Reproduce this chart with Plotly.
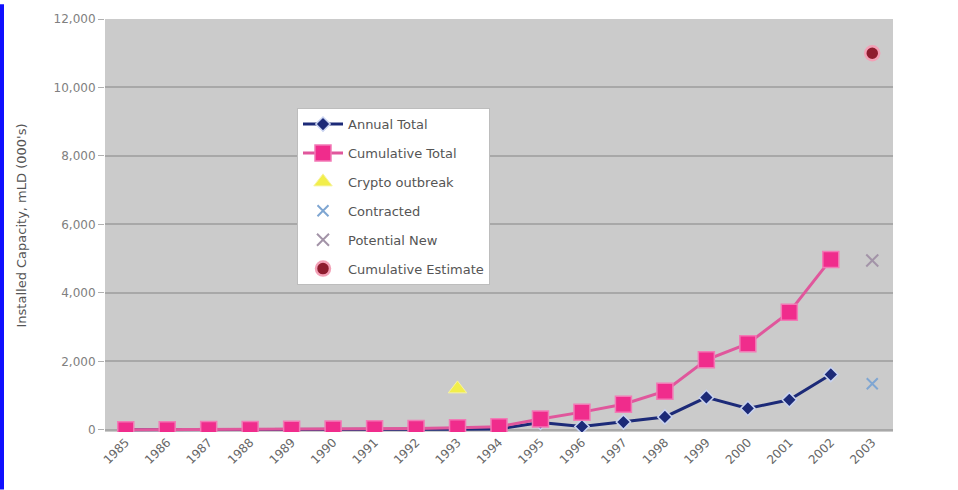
import plotly.graph_objects as go

years = [str(y) for y in range(1985, 2004)]

# Installed capacity by year (000's)
annual_total = [3, 3, 4, 4, 5, 6, 8, 12, 20, 30, 220, 100, 230, 380, 950, 630, 880, 1620]
cumulative_total = [3, 6, 10, 14, 19, 25, 33, 45, 65, 95, 320, 520, 750, 1130, 2050, 2520, 3440, 4980]

crypto_year = ["1993"]
crypto_value = [1200]

contracted_year = ["2003"]
contracted_value = [1350]

potential_year = ["2003"]
potential_value = [4950]

estimate_year = ["2003"]
estimate_value = [11000]

y_ticks = [0, 2000, 4000, 6000, 8000, 10000, 12000]
y_tick_text = ["0", "2,000", "4,000", "6,000", "8,000", "10,000", "12,000"]

FONT = "DejaVu Sans, Verdana, sans-serif"

fig = go.Figure()

fig.add_trace(go.Scatter(
    x=years[:len(annual_total)], y=annual_total, name="Annual Total",
    mode="lines+markers", legendgroup="a",
    line=dict(color="#1c2a78", width=3),
    marker=dict(symbol="diamond", size=11, color="#1c2a78",
                line=dict(color="#c9d3f0", width=1.5)),
))
fig.add_trace(go.Scatter(
    x=years[:len(cumulative_total)], y=cumulative_total, name="Cumulative Total",
    mode="lines+markers", legendgroup="b",
    line=dict(color="#e0579c", width=3),
    marker=dict(symbol="square", size=16, color="#f02c8c",
                line=dict(color="#f27ab6", width=1.5)),
))
fig.add_trace(go.Scatter(
    x=crypto_year, y=crypto_value, name="Crypto outbreak",
    mode="markers", legendgroup="c",
    marker=dict(symbol="triangle-up", size=16, color="#f2ee4a",
                line=dict(color="#f7f3a0", width=1)),
))
fig.add_trace(go.Scatter(
    x=contracted_year, y=contracted_value, name="Contracted",
    mode="markers", legendgroup="d",
    marker=dict(symbol="x-thin", size=11, color="#7fa6d2",
                line=dict(color="#7fa6d2", width=2)),
))
fig.add_trace(go.Scatter(
    x=potential_year, y=potential_value, name="Potential New",
    mode="markers", legendgroup="e",
    marker=dict(symbol="x-thin", size=12, color="#a394a8",
                line=dict(color="#a394a8", width=2)),
))
fig.add_trace(go.Scatter(
    x=estimate_year, y=estimate_value, name="Cumulative Estimate",
    mode="markers", legendgroup="f",
    marker=dict(symbol="circle", size=14, color="#8e1c2e",
                line=dict(color="#f3a0b6", width=2.5)),
))

fig.update_layout(
    width=958, height=490,
    margin=dict(l=105, r=65, t=15, b=58),
    paper_bgcolor="white",
    plot_bgcolor="#cbcbcb",
    font=dict(family=FONT, color="#666666", size=12),
    showlegend=True,
    legend=dict(
        x=(297 - 105) / 788, y=(432 - 105) / 417, xanchor="left", yanchor="top",
        bgcolor="white", bordercolor="#bdbdbd", borderwidth=1,
        font=dict(family=FONT, size=13, color="#555555"),
        itemwidth=40, tracegroupgap=9,
    ),
    shapes=[dict(
        type="rect", xref="paper", yref="paper",
        x0=-105 / 788, x1=-101 / 788, y0=-58 / 417, y1=432 / 417,
        fillcolor="#1010ff", line=dict(width=0), layer="above",
    )],
)

fig.update_xaxes(
    type="category", categoryorder="array", categoryarray=years,
    range=[-0.5, 18.5],
    tickangle=-45, tickfont=dict(family=FONT, size=12, color="#666666"),
    showgrid=False, ticks="", showline=False,
)
fig.update_yaxes(
    range=[-60, 12000], tickvals=y_ticks, ticktext=y_tick_text,
    tickfont=dict(family=FONT, size=12, color="#808080"),
    ticks="outside", ticklen=6, tickcolor="#b0b0b0",
    gridcolor="#a8a8a8", gridwidth=2, zeroline=False,
    title=dict(text="Installed Capacity, mLD (000's)",
               font=dict(family=FONT, size=13, color="#555555"), standoff=24),
)

fig.write_html("out.html")
